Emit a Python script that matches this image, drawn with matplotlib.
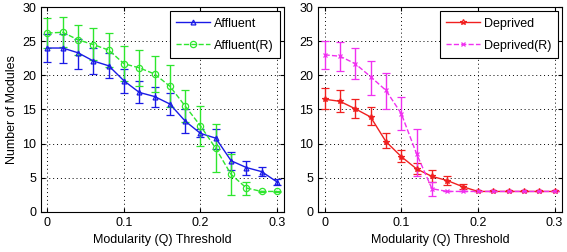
import numpy as np
import matplotlib
matplotlib.use("Agg")
import matplotlib.pyplot as plt
from matplotlib.lines import Line2D

# threshold values on x
q = [0.0, 0.02, 0.04, 0.06, 0.08, 0.10, 0.12, 0.14, 0.16, 0.18, 0.20, 0.22, 0.24, 0.26, 0.28, 0.30]

# left panel
affluent = [24.0, 24.0, 23.3, 22.1, 21.4, 19.2, 17.5, 16.9, 15.8, 13.3, 11.5, 10.8, 7.5, 6.5, 5.9, 4.4]
affluent_lo = [21.9, 21.8, 21.0, 20.2, 19.6, 17.4, 16.0, 15.4, 14.2, 11.5, 10.9, 9.2, 6.2, 5.4, 5.2, 4.0]
affluent_hi = [26.0, 26.0, 25.3, 24.0, 23.2, 20.9, 19.2, 18.3, 17.4, 15.1, 12.2, 12.1, 8.8, 7.5, 6.6, 4.8]

affluent_r = [26.2, 26.3, 25.2, 24.5, 23.7, 21.7, 21.1, 20.2, 18.4, 15.5, 12.6, 9.3, 5.5, 3.5, 3.0, 3.0]
affluent_r_lo = [24.0, 24.1, 23.0, 22.2, 21.2, 19.2, 18.4, 17.5, 15.3, 13.2, 9.6, 5.8, 2.5, 2.5, 2.9, 2.9]
affluent_r_hi = [28.4, 28.5, 27.4, 26.9, 26.2, 24.3, 23.7, 22.9, 21.5, 17.8, 15.5, 12.9, 8.5, 4.4, 3.1, 3.1]

# right panel
deprived = [16.5, 16.2, 15.1, 13.9, 10.3, 8.1, 6.3, 5.2, 4.6, 3.7, 3.0, 3.0, 3.0, 3.0, 3.0, 3.0]
deprived_lo = [15.0, 14.6, 13.7, 12.8, 9.3, 7.3, 5.5, 4.4, 4.0, 3.3, 3.0, 3.0, 3.0, 3.0, 3.0, 3.0]
deprived_hi = [18.1, 17.8, 16.5, 15.3, 11.5, 9.0, 7.1, 6.1, 5.3, 4.1, 3.0, 3.0, 3.0, 3.0, 3.0, 3.0]

deprived_r = [23.0, 22.8, 21.7, 19.8, 17.8, 14.4, 8.5, 3.4, 3.0, 3.0, 3.0, 3.0, 3.0, 3.0, 3.0, 3.0]
deprived_r_lo = [20.9, 20.7, 19.4, 17.1, 15.0, 12.0, 5.2, 2.4, 3.0, 3.0, 3.0, 3.0, 3.0, 3.0, 3.0, 3.0]
deprived_r_hi = [25.1, 24.9, 24.0, 22.1, 20.4, 16.9, 12.2, 4.4, 3.0, 3.0, 3.0, 3.0, 3.0, 3.0, 3.0, 3.0]

FS = 9
plt.rcParams["font.family"] = ["Liberation Sans", "DejaVu Sans"]
plt.rcParams["font.size"] = FS

fig = plt.figure(figsize=(5.67, 2.52), dpi=100)
ax1 = fig.add_axes([0.0723, 0.159, 0.429, 0.813])
ax2 = fig.add_axes([0.561, 0.159, 0.430, 0.813])


def draw(ax, y, lo, hi, color, marker, ls, ms):
    y = np.array(y)
    err = [y - np.array(lo), np.array(hi) - y]
    ax.errorbar(q, y, yerr=err, color=color, marker=marker, linestyle=ls,
                linewidth=1.0, markersize=ms, markerfacecolor="none",
                markeredgewidth=0.9, elinewidth=1.0, capsize=3, capthick=1.0)
    return Line2D([], [], color=color, marker=marker, linestyle=ls, linewidth=1.0,
                  markersize=ms, markerfacecolor="none", markeredgewidth=0.9)


h1 = draw(ax1, affluent, affluent_lo, affluent_hi, "#1a1ae6", "^", "-", 3.5)
h2 = draw(ax1, affluent_r, affluent_r_lo, affluent_r_hi, "#2ee62e", "o", "--", 4.5)
h3 = draw(ax2, deprived, deprived_lo, deprived_hi, "#f02020", "*", "-", 4)
h4 = draw(ax2, deprived_r, deprived_r_lo, deprived_r_hi, "#f030f0", "x", "--", 3.5)

legends = {ax1: ([h1, h2], ["Affluent", "Affluent(R)"]),
           ax2: ([h3, h4], ["Deprived", "Deprived(R)"])}

for ax in (ax1, ax2):
    ax.set_xlim(-0.0085, 0.3095)
    ax.set_ylim(0, 30)
    ax.set_xticks([0, 0.1, 0.2, 0.3])
    ax.set_xticklabels(["0", "0.1", "0.2", "0.3"])
    ax.set_yticks([0, 5, 10, 15, 20, 25, 30])
    ax.grid(True, color="black", linestyle=(0, (1, 3)), linewidth=0.7)
    ax.tick_params(direction="in", length=3, top=True, right=True, labelsize=FS)
    ax.set_xlabel("Modularity (Q) Threshold", fontsize=FS, labelpad=4)
    for s in ax.spines.values():
        s.set_linewidth(0.8)
    hs, ls_ = legends[ax]
    leg = ax.legend(hs, ls_, loc="upper right", fontsize=FS, fancybox=False,
                    edgecolor="black", framealpha=1, borderaxespad=0.35,
                    handlelength=2.7, labelspacing=0.8, borderpad=0.5,
                    handletextpad=0.3)
    leg.get_frame().set_linewidth(0.8)

ax1.set_ylabel("Number of Modules", fontsize=FS, labelpad=3)

fig.savefig("out.png", dpi=100)
